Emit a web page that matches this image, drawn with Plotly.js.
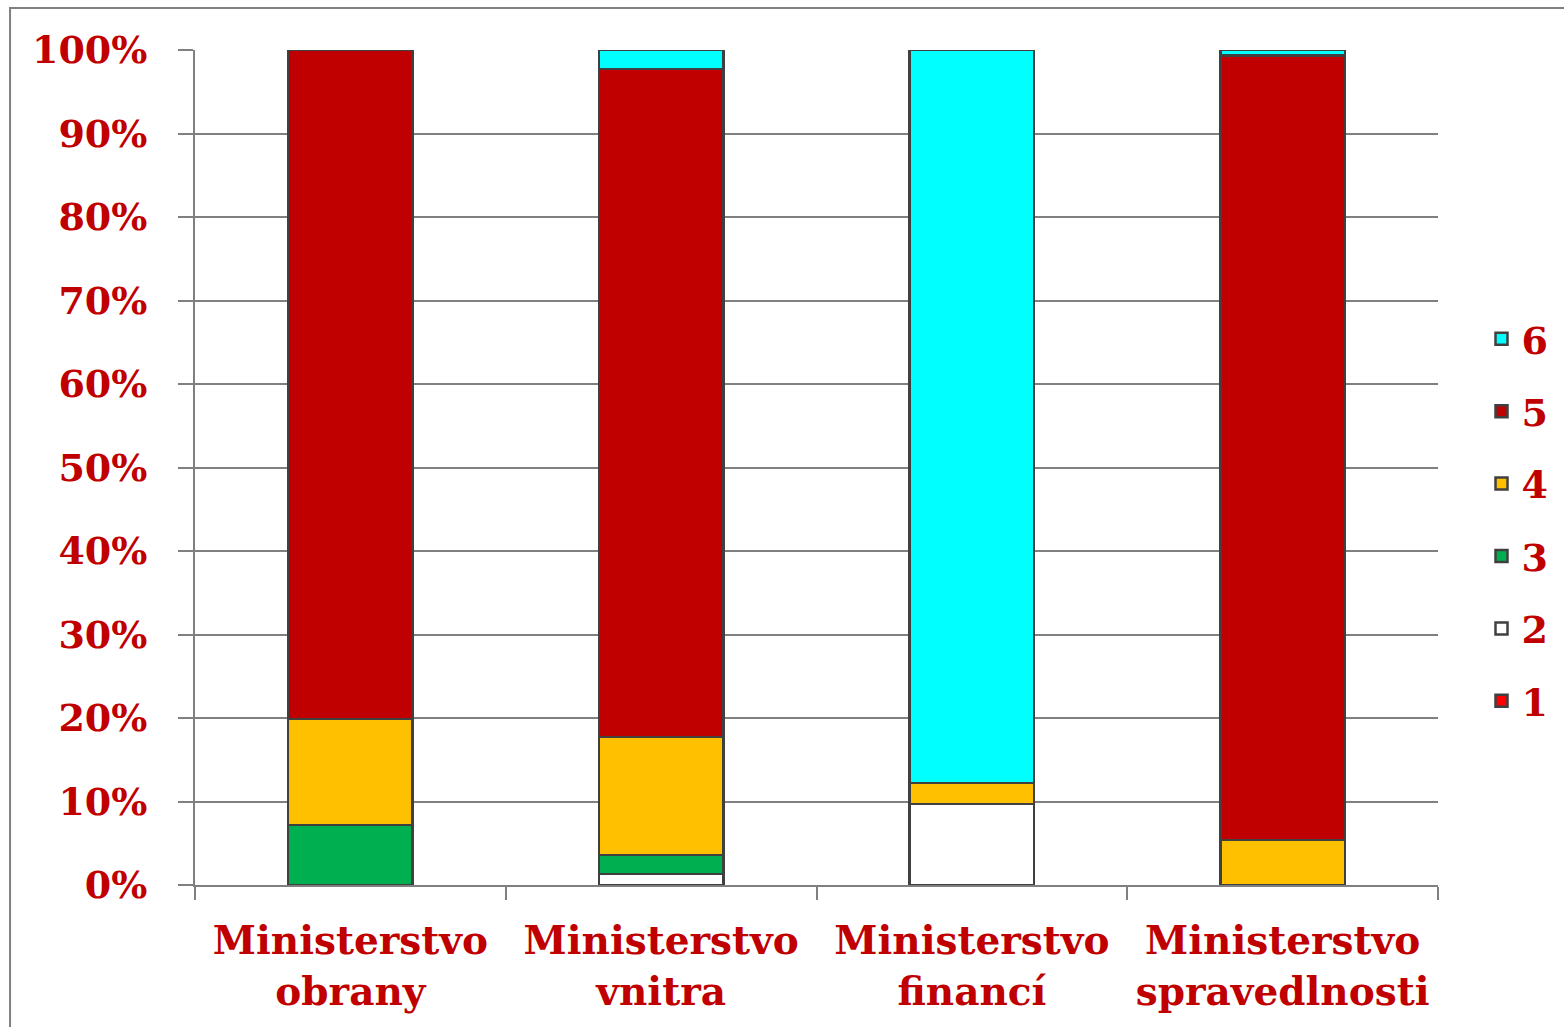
<!DOCTYPE html>
<html>
<head>
<meta charset="utf-8">
<script src="https://cdn.plot.ly/plotly-3.0.1.min.js"></script>
<style>
html,body{margin:0;padding:0;background:#fff;}
#chart{width:1564px;height:1027px;}
</style>
</head>
<body>
<div id="chart"></div>
<script>
const categories = ["Ministerstvo<br>obrany", "Ministerstvo<br>vnitra", "Ministerstvo<br>financí", "Ministerstvo<br>spravedlnosti"];
const seriesNames = ["1", "2", "3", "4", "5", "6"];
const s1 = [0, 0, 0, 0];
const s2 = [0, 1.3, 9.7, 0];
const s3 = [7.2, 2.3, 0, 0];
const s4 = [12.7, 14.1, 2.5, 5.4];
const s5 = [80.1, 80.0, 0, 93.95];
const s6 = [0, 2.3, 87.8, 0.65];
const colors = ["#FF0000", "#FFFFFF", "#00B050", "#FFC000", "#C00000", "#00FFFF"];

const allSeries = [s1, s2, s3, s4, s5, s6];
const red = "#C00000";
const fontFam = "DejaVu Serif, serif";

const traces = allSeries.map((vals, i) => ({
  type: "bar",
  name: seriesNames[i],
  x: categories,
  y: vals,
  legendgroup: "g" + i,
  legendrank: 6 - i,
  marker: {color: colors[i], line: {color: "#404040", width: 2.5}},
  hoverinfo: "x+y+name"
}));

const layout = {
  width: 1564, height: 1027,
  margin: {l: 195, r: 126, t: 50, b: 142, autoexpand: false},
  paper_bgcolor: "#fff", plot_bgcolor: "#fff",
  barmode: "stack",
  barnorm: "percent",
  bargap: 0.6,
  font: {family: fontFam, color: red},
  showlegend: true,
  legend: {
    x: 1.035, xanchor: "left", y: 0.437, yanchor: "middle",
    traceorder: "grouped",
    tracegroupgap: 20,
    font: {family: fontFam, size: 38, color: red, weight: "bold"},
    itemwidth: 30
  },
  xaxis: {
    type: "category",
    showgrid: false,
    showline: true, linecolor: "#808080", linewidth: 2,
    ticks: "outside", tickson: "boundaries", ticklen: 13, tickwidth: 2, tickcolor: "#808080",
    tickfont: {family: fontFam, size: 39, color: red, weight: "bold"},
    tickangle: 0,
    ticklabelstandoff: 20,
    fixedrange: true
  },
  yaxis: {
    range: [0, 100],
    dtick: 10,
    ticksuffix: "%",
    showgrid: true, gridcolor: "#808080", gridwidth: 2,
    showline: true, linecolor: "#808080", linewidth: 2,
    ticks: "outside", ticklen: 15, tickwidth: 2, tickcolor: "#808080",
    tickfont: {family: fontFam, size: 38, color: red, weight: "bold"},
    ticklabelstandoff: 23,
    zeroline: false,
    fixedrange: true
  },
  shapes: [{
    type: "rect", xref: "paper", yref: "paper",
    x0: -0.1488, x1: 1.12, y0: -0.2, y1: 1.0503,
    line: {color: "#808080", width: 2}, fillcolor: "rgba(0,0,0,0)", layer: "below"
  }]
};

Plotly.newPlot("chart", traces, layout, {displayModeBar: false, staticPlot: true});
</script>
</body>
</html>
